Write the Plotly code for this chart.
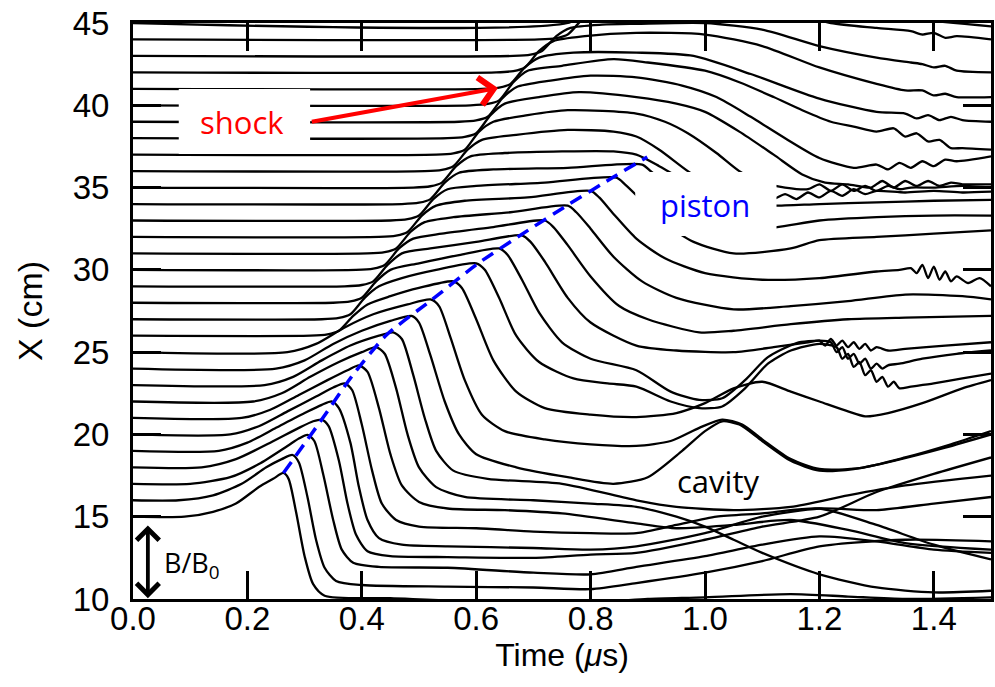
import plotly.graph_objects as go

# ---------------- data ----------------
# each probe trace: time (us) and plotted position (cm); baseline = probe position
t15 = [0, 0.09, 0.14, 0.18, 0.22, 0.245, 0.263, 0.272, 0.285, 0.30, 0.315, 0.335, 0.45, 0.6, 0.8, 0.9, 1.0, 1.15, 1.25, 1.35, 1.5]
x15 = [15, 15, 15.3, 15.8, 16.8, 17.3, 17.66, 17.3, 15.3, 12.6, 10.9, 10.2, 10.05, 9.85, 9.8, 10.0, 10.1, 10.3, 10.15, 10.0, 10.1]
t16 = [0, 0.08, 0.14, 0.19, 0.233, 0.26, 0.279, 0.29, 0.305, 0.32, 0.335, 0.355, 0.40, 0.55, 0.7, 0.8, 0.88, 1.0, 1.1, 1.2, 1.35, 1.5]
x16 = [16, 16, 16.3, 17.0, 18.0, 18.5, 18.75, 18.3, 16.2, 13.6, 11.9, 11.1, 10.85, 10.75, 10.7, 10.6, 10.97, 11.6, 12.3, 13.2, 13.6, 13.5]
t17 = [0, 0.10, 0.17, 0.22, 0.27, 0.29, 0.305, 0.317, 0.333, 0.35, 0.365, 0.385, 0.43, 0.55, 0.7, 0.8, 0.88, 1.0, 1.1, 1.2, 1.3, 1.4, 1.5]
x17 = [17, 17, 17.4, 18.2, 19.3, 19.75, 19.97, 19.6, 17.5, 14.8, 13.0, 12.2, 11.95, 11.9, 11.6, 11.5, 11.95, 12.6, 13.3, 13.8, 13.5, 13.0, 12.8]
t18 = [0, 0.12, 0.18, 0.24, 0.29, 0.315, 0.33, 0.342, 0.36, 0.375, 0.39, 0.41, 0.45, 0.55, 0.7, 0.8, 0.88, 1.0, 1.1, 1.2, 1.3, 1.4, 1.5]
x18 = [18, 18, 18.5, 19.5, 20.4, 20.8, 20.9, 20.5, 18.4, 15.8, 13.9, 12.9, 12.6, 12.55, 12.5, 12.7, 12.8, 13.6, 14.4, 15.0, 16.5, 17.6, 18.6]
t19 = [0, 0.15, 0.2, 0.25, 0.30, 0.33, 0.348, 0.36, 0.38, 0.395, 0.41, 0.43, 0.47, 0.55, 0.7, 0.8, 0.88, 1.0, 1.1, 1.2, 1.3, 1.4, 1.5]
x19 = [19, 19, 19.5, 20.4, 21.3, 21.8, 22.0, 21.6, 19.5, 16.8, 14.8, 13.7, 13.3, 13.2, 13.1, 13.0, 13.2, 14.0, 15.0, 15.5, 15.4, 15.8, 16.2]
t20 = [0, 0.17, 0.22, 0.27, 0.32, 0.35, 0.37, 0.383, 0.40, 0.418, 0.435, 0.46, 0.5, 0.6, 0.7, 0.8, 0.88, 0.95, 1.02, 1.1, 1.2, 1.3, 1.4, 1.5]
x20 = [20, 20, 20.5, 21.4, 22.3, 22.85, 23.1, 22.7, 20.6, 17.8, 15.8, 14.8, 14.4, 14.3, 14.1, 14.0, 14.0, 14.5, 15.0, 15.2, 15.5, 14.5, 13.3, 12.4]
t21 = [0, 0.19, 0.24, 0.29, 0.34, 0.375, 0.395, 0.41, 0.43, 0.45, 0.47, 0.5, 0.55, 0.65, 0.75, 0.88, 0.95, 1.05, 1.15, 1.25, 1.35, 1.5]
x21 = [21, 21, 21.5, 22.4, 23.3, 23.9, 24.2, 23.8, 21.6, 18.8, 16.9, 15.9, 15.5, 15.4, 15.2, 14.6, 14.3, 14.5, 14.8, 14.2, 13.4, 13.0]
t22 = [0, 0.21, 0.26, 0.31, 0.36, 0.40, 0.425, 0.44, 0.46, 0.48, 0.50, 0.53, 0.58, 0.7, 0.8, 0.88, 0.95, 1.0, 1.05, 1.1, 1.2, 1.3, 1.4, 1.5]
x22 = [22, 22, 22.5, 23.5, 24.4, 25.0, 25.3, 24.9, 22.8, 20.0, 18.0, 16.8, 16.2, 16.0, 15.8, 15.6, 15.0, 14.4, 13.6, 12.8, 11.5, 10.7, 10.4, 10.5]
t23 = [0, 0.23, 0.28, 0.33, 0.38, 0.43, 0.455, 0.47, 0.49, 0.51, 0.53, 0.56, 0.62, 0.75, 0.88, 0.95, 1.05, 1.15, 1.25, 1.35, 1.5]
x23 = [23, 23, 23.5, 24.5, 25.4, 26.0, 26.2, 25.8, 23.6, 21.0, 19.0, 17.8, 17.3, 17.0, 16.0, 15.6, 15.4, 15.6, 16.3, 16.9, 17.5]
t24 = [0, 0.25, 0.30, 0.35, 0.40, 0.45, 0.487, 0.50, 0.52, 0.545, 0.57, 0.60, 0.67, 0.76, 0.84, 0.90, 0.96, 1.0, 1.03, 1.06, 1.1, 1.15, 1.2, 1.26, 1.33, 1.42, 1.5]
x24 = [24, 24, 24.5, 25.5, 26.3, 26.9, 27.2, 26.8, 24.8, 22.0, 20.0, 18.8, 18.0, 17.4, 17.0, 17.4, 19.0, 20.2, 20.8, 20.6, 19.6, 18.4, 17.8, 17.9, 18.4, 19.2, 20.0]
t25 = [0, 0.27, 0.32, 0.37, 0.42, 0.48, 0.52, 0.535, 0.555, 0.58, 0.61, 0.65, 0.72, 0.80, 0.88, 0.94, 0.99, 1.03, 1.065, 1.1, 1.15, 1.2, 1.27, 1.35, 1.43, 1.5]
x25 = [25, 25, 25.5, 26.5, 27.3, 27.9, 28.2, 27.8, 25.9, 23.3, 21.2, 20.2, 19.7, 19.4, 19.3, 19.6, 20.4, 20.9, 20.6, 19.7, 18.5, 17.9, 17.95, 18.6, 19.4, 20.2]
t26 = [0, 0.31, 0.34, 0.36, 0.385, 0.41, 0.45, 0.50, 0.56, 0.575, 0.60, 0.63, 0.67, 0.72, 0.80, 0.88, 0.95, 1.0, 1.05, 1.1, 1.15, 1.2, 1.25, 1.28, 1.32, 1.38, 1.45, 1.5]
x26 = [26, 26, 26.08, 26.3, 27.2, 27.9, 28.4, 28.9, 29.3, 28.9, 27.0, 24.5, 22.6, 21.6, 21.2, 21.05, 21.3, 21.9, 22.8, 23.2, 22.6, 22.0, 21.4, 21.1, 21.3, 21.9, 22.8, 23.3]
t27 = [0, 0.33, 0.36, 0.38, 0.405, 0.43, 0.47, 0.53, 0.60, 0.615, 0.64, 0.67, 0.71, 0.77, 0.83, 0.88, 0.94, 0.99, 1.03, 1.07, 1.11, 1.15, 1.2,
       1.23, 1.24, 1.25, 1.26, 1.27, 1.28, 1.29, 1.30, 1.31, 1.32, 1.33, 1.34, 1.36, 1.4, 1.45, 1.5]
x27 = [27, 27, 27.08, 27.3, 28.3, 29.0, 29.5, 30.0, 30.4, 30.0, 28.3, 26.0, 24.4, 23.4, 23.1, 22.9, 22.0, 21.6, 21.7, 22.8, 24.3, 25.1, 25.5,
       25.3, 24.6, 24.9, 24.1, 24.4, 23.6, 23.9, 23.2, 23.5, 22.9, 23.2, 22.8, 22.9, 23.1, 23.4, 23.7]
t28 = [0, 0.35, 0.38, 0.40, 0.425, 0.45, 0.50, 0.57, 0.64, 0.655, 0.68, 0.71, 0.75, 0.80, 0.88, 0.94, 0.99, 1.03, 1.07, 1.11, 1.16, 1.2,
       1.22, 1.23, 1.24, 1.25, 1.26, 1.27, 1.28, 1.29, 1.30, 1.31, 1.32, 1.34, 1.38, 1.44, 1.5]
x28 = [28, 28, 28.08, 28.3, 29.3, 30.0, 30.4, 30.9, 31.3, 30.9, 29.4, 27.4, 25.6, 24.6, 23.9, 22.6, 22.1, 22.2, 23.3, 24.7, 25.55, 25.7,
       25.6, 25.0, 25.3, 24.6, 24.9, 24.3, 24.6, 24.0, 24.3, 24.0, 24.2, 24.3, 24.6, 24.9, 25.1]
t29 = [0, 0.37, 0.40, 0.42, 0.445, 0.47, 0.52, 0.60, 0.68, 0.695, 0.72, 0.76, 0.80, 0.88, 0.95, 1.05, 1.12, 1.18, 1.2,
       1.21, 1.22, 1.23, 1.24, 1.25, 1.26, 1.27, 1.28, 1.29, 1.30, 1.32, 1.35, 1.42, 1.5]
x29 = [29, 29, 29.08, 29.3, 30.3, 31.0, 31.3, 31.7, 32.1, 31.7, 30.5, 28.3, 26.8, 25.4, 25.1, 25.0, 25.3, 25.6, 25.7,
       25.4, 25.8, 25.4, 25.7, 25.3, 25.6, 25.2, 25.5, 25.1, 25.3, 25.1, 25.2, 25.4, 25.6]
t30 = [0, 0.39, 0.42, 0.44, 0.465, 0.49, 0.54, 0.63, 0.72, 0.735, 0.76, 0.80, 0.85, 0.90, 0.99, 1.05, 1.15, 1.25, 1.35, 1.5]
x30 = [30, 30, 30.08, 30.3, 31.3, 31.9, 32.2, 32.6, 33.0, 32.6, 31.5, 29.6, 27.8, 27.0, 26.2, 26.3, 26.7, 27.0, 27.1, 27.2]
t31 = [0, 0.41, 0.44, 0.46, 0.485, 0.51, 0.56, 0.66, 0.76, 0.775, 0.80, 0.84, 0.89, 0.95, 1.05, 1.15, 1.25, 1.35, 1.45, 1.5]
x31 = [31, 31, 31.08, 31.3, 32.3, 32.9, 33.2, 33.5, 33.9, 33.5, 32.5, 30.8, 29.3, 28.3, 27.6, 27.8, 28.1, 28.5, 28.4, 28.2]
t32 = [0, 0.43, 0.46, 0.48, 0.505, 0.53, 0.58, 0.69, 0.80, 0.815, 0.84, 0.88, 0.93, 1.0, 1.1, 1.2, 1.3,
       1.34, 1.36, 1.37, 1.38, 1.39, 1.40, 1.41, 1.42, 1.43, 1.44, 1.46, 1.48, 1.5]
x32 = [32, 32, 32.08, 32.3, 33.3, 33.9, 34.2, 34.4, 34.8, 34.4, 33.4, 31.9, 30.7, 29.8, 29.4, 29.5, 29.9,
       30.0, 30.1, 29.8, 30.3, 29.5, 30.2, 29.4, 29.9, 29.3, 29.6, 29.2, 29.5, 29.0]
t33 = [0, 0.45, 0.48, 0.50, 0.525, 0.55, 0.60, 0.72, 0.845, 0.86, 0.89, 0.93, 0.98, 1.05, 1.15, 1.2, 1.3, 1.4, 1.5]
x33 = [33, 33, 33.08, 33.3, 34.3, 34.9, 35.1, 35.3, 35.6, 35.2, 34.2, 32.8, 31.7, 31.0, 31.3, 31.8, 32.0, 32.2, 32.4]
t34 = [0, 0.47, 0.50, 0.52, 0.545, 0.57, 0.63, 0.76, 0.89, 0.905, 0.94, 0.98, 1.03, 1.1, 1.2, 1.3, 1.4, 1.5]
x34 = [34, 34, 34.08, 34.3, 35.3, 35.9, 36.1, 36.2, 36.4, 36.0, 35.0, 33.8, 32.8, 32.5, 33.0, 33.2, 33.3, 33.3]
t35 = [0, 0.49, 0.52, 0.54, 0.565, 0.59, 0.65, 0.75, 0.84, 0.88, 0.92, 0.96, 1.0, 1.06, 1.12, 1.2, 1.3, 1.4, 1.5]
x35 = [35, 35, 35.08, 35.3, 36.3, 36.9, 37.1, 37.2, 37.2, 37.0, 36.3, 35.5, 34.7, 34.0, 33.9, 34.0, 34.1, 34.2, 34.25]
t36 = [0, 0.51, 0.54, 0.56, 0.585, 0.61, 0.67, 0.76, 0.84, 0.88, 0.92, 0.97, 1.02, 1.08, 1.12,
       1.14, 1.16, 1.18, 1.2, 1.22, 1.24, 1.26, 1.28, 1.3, 1.35, 1.4, 1.45, 1.5]
x36 = [36, 36, 36.08, 36.3, 37.3, 37.9, 38.2, 38.5, 38.4, 38.1, 37.3, 36.0, 34.9, 34.4, 34.3,
       34.6, 34.3, 34.7, 34.4, 34.8, 34.5, 34.9, 34.6, 34.8, 34.7, 34.8, 34.7, 34.75]
t37 = [0, 0.53, 0.56, 0.58, 0.605, 0.63, 0.69, 0.76, 0.88, 0.93, 0.97, 1.02, 1.06, 1.1, 1.14, 1.18,
       1.2, 1.22, 1.24, 1.26, 1.28, 1.30, 1.32, 1.34, 1.36, 1.4, 1.45, 1.5]
x37 = [37, 37, 37.08, 37.3, 38.4, 39.0, 39.4, 39.7, 39.5, 39.0, 38.3, 37.1, 36.0, 35.3, 35.0, 34.9,
       35.2, 34.8, 35.2, 34.8, 35.1, 34.8, 35.1, 34.9, 35.0, 35.0, 35.1, 35.0]
t38 = [0, 0.55, 0.58, 0.60, 0.625, 0.65, 0.71, 0.78, 0.88, 0.95, 1.0, 1.06, 1.12, 1.17, 1.21, 1.25, 1.29,
       1.31, 1.33, 1.35, 1.37, 1.39, 1.41, 1.43, 1.45, 1.5]
x38 = [38, 38, 38.08, 38.3, 39.4, 40.1, 40.5, 40.8, 40.5, 40.1, 39.6, 38.4, 37.0, 35.8, 35.3, 35.2, 35.0,
       35.4, 35.0, 35.4, 35.1, 35.4, 35.1, 35.3, 35.2, 35.2]
t39 = [0, 0.57, 0.60, 0.62, 0.645, 0.67, 0.73, 0.80, 0.88, 0.96, 1.02, 1.08, 1.14, 1.2, 1.26,
       1.3, 1.32, 1.34, 1.36, 1.38, 1.40, 1.42, 1.44, 1.5]
x39 = [39, 39, 39.08, 39.3, 40.4, 41.1, 41.5, 41.8, 41.7, 41.2, 40.5, 39.3, 38.0, 36.8, 36.2,
       36.4, 36.1, 36.5, 36.2, 36.6, 36.3, 36.7, 36.6, 36.9]
t40 = [0, 0.59, 0.62, 0.64, 0.665, 0.69, 0.75, 0.84, 0.9, 1.0, 1.06, 1.12, 1.17, 1.22, 1.26, 1.3,
       1.33, 1.35, 1.37, 1.39, 1.41, 1.43, 1.45, 1.5]
x40 = [40, 40, 40.08, 40.3, 41.4, 42.1, 42.4, 42.8, 42.6, 42.1, 41.4, 40.5, 39.7, 39.0, 38.7, 38.4,
       38.6, 38.1, 38.3, 37.8, 37.9, 37.4, 37.4, 37.3]
t41 = [0, 0.61, 0.64, 0.66, 0.685, 0.71, 0.77, 0.88, 0.98, 1.08, 1.2, 1.3, 1.35, 1.37, 1.39, 1.41, 1.43, 1.45, 1.5]
x41 = [41, 41, 41.08, 41.3, 42.3, 42.9, 43.2, 43.2, 43.0, 41.9, 40.4, 39.6, 39.5, 39.2, 39.4, 39.1, 39.3, 39.1, 39.0]
t42 = [0, 0.635, 0.665, 0.685, 0.71, 0.735, 0.79, 0.88, 1.0, 1.1, 1.2, 1.3, 1.35, 1.38, 1.4, 1.42, 1.44, 1.5]
x42 = [42, 42, 42.08, 42.3, 43.3, 43.9, 44.2, 44.4, 44.3, 43.6, 42.3, 41.3, 40.9, 40.9, 40.6, 40.7, 40.5, 40.5]
t43 = [0, 0.665, 0.695, 0.715, 0.74, 0.765, 0.82, 0.88, 1.0, 1.1, 1.2, 1.3, 1.36, 1.38, 1.4, 1.42, 1.44, 1.5]
x43 = [43, 43, 43.08, 43.3, 44.2, 44.7, 44.9, 44.95, 45.0, 44.6, 43.6, 42.9, 42.6, 42.5, 42.3, 42.4, 42.1, 42.0]
t44 = [0, 0.71, 0.74, 0.76, 0.785, 0.81, 0.9, 1.0, 1.15, 1.22, 1.3, 1.36, 1.38, 1.40, 1.42, 1.44, 1.5]
x44 = [44, 44, 44.08, 44.3, 45.2, 45.8, 46.0, 46.0, 45.6, 45.0, 44.7, 44.5, 44.3, 44.4, 44.1, 44.2, 44.0]
t45 = [0, 0.76, 0.8, 0.9, 1.2, 1.35, 1.5]
x45 = [45, 45, 45.8, 46.5, 46.0, 45.3, 44.8]

# piston trajectory (blue dashed)
piston_t = [0.263, 0.327, 0.383, 0.443, 0.522, 0.602, 0.678, 0.760, 0.840, 0.899]
piston_x = [17.66, 20.76, 23.55, 26.04, 28.17, 30.36, 32.12, 33.94, 35.64, 36.86]

x_ticks = [0.0, 0.2, 0.4, 0.6, 0.8, 1.0, 1.2, 1.4]
x_ticklabels = ["0.0", "0.2", "0.4", "0.6", "0.8", "1.0", "1.2", "1.4"]
y_ticks = [10, 15, 20, 25, 30, 35, 40, 45]

traces = [(t15, x15), (t16, x16), (t17, x17), (t18, x18), (t19, x19), (t20, x20),
          (t21, x21), (t22, x22), (t23, x23), (t24, x24), (t25, x25), (t26, x26),
          (t27, x27), (t28, x28), (t29, x29), (t30, x30), (t31, x31), (t32, x32),
          (t33, x33), (t34, x34), (t35, x35), (t36, x36), (t37, x37), (t38, x38),
          (t39, x39), (t40, x40), (t41, x41), (t42, x42), (t43, x43), (t44, x44),
          (t45, x45)]

fig = go.Figure()
for tt, xx in traces:
    fig.add_trace(go.Scatter(x=tt, y=xx, mode="lines",
                             line=dict(color="black", width=2.3, shape="spline", smoothing=0.7),
                             hoverinfo="skip", showlegend=False))

fig.add_trace(go.Scatter(x=piston_t, y=piston_x, mode="lines",
                         line=dict(color="#0000ff", width=3.5, dash="13px,8px", shape="spline", smoothing=0.6),
                         hoverinfo="skip", showlegend=False))

TXT = "Open Sans"
AX = "Liberation Sans"

# white label boxes
fig.add_shape(type="rect", xref="x", yref="y", x0=0.08, x1=0.3096, y0=37.04, y1=40.99,
              fillcolor="white", line=dict(width=0), layer="above")
fig.add_shape(type="rect", xref="x", yref="y", x0=0.878, x1=1.125, y0=32.06, y1=35.95,
              fillcolor="white", line=dict(width=0), layer="above")

annotations = [
    dict(x=0.19, y=39.0, xref="x", yref="y", text="shock", showarrow=False,
         font=dict(family=TXT, size=31, color="#ff0000")),
    dict(x=1.0, y=33.95, xref="x", yref="y", text="piston", showarrow=False,
         font=dict(family=TXT, size=31, color="#0000ff")),
    dict(x=1.023, y=17.15, xref="x", yref="y", text="cavity", showarrow=False,
         font=dict(family=TXT, size=31, color="black")),
    dict(x=0.05, y=12.1, xref="x", yref="y", text="B/B<sub>0</sub>", showarrow=False,
         xanchor="left", font=dict(family=TXT, size=27, color="black")),
    # red shock arrow
    dict(x=0.638, y=41.05, xref="x", yref="y", ax=0.31, ay=38.98, axref="x", ayref="y",
         text="", showarrow=True, arrowhead=4, arrowsize=1.35, arrowwidth=4, arrowcolor="#ff0000",
         standoff=0),
    # B/B0 scale arrow
    dict(x=0.026, y=10.05, xref="x", yref="y", ax=0.026, ay=14.56, axref="x", ayref="y",
         text="", showarrow=True, arrowhead=4, startarrowhead=4, arrowside="end+start",
         arrowsize=1.15, startarrowsize=1.15, arrowwidth=3.8, arrowcolor="black",
         standoff=0, startstandoff=0),
]

axis_common = dict(showline=True, linewidth=3, linecolor="black", mirror="ticks",
                   ticks="inside", ticklen=28, tickwidth=3, tickcolor="black",
                   showgrid=False, zeroline=False,
                   tickfont=dict(family=AX, size=33, color="black"))

fig.update_layout(
    width=995, height=687,
    margin=dict(l=133, r=1, t=23, b=88),
    paper_bgcolor="white", plot_bgcolor="white",
    showlegend=False,
    annotations=annotations,
    xaxis=dict(range=[0, 1.5], tickvals=x_ticks, ticktext=x_ticklabels,
               title=dict(text="Time (<i>μ</i>s)", font=dict(family=AX, size=32, color="black"), standoff=0),
               ticklabelstandoff=-12, **axis_common),
    yaxis=dict(range=[10, 45], tickvals=y_ticks,
               title=dict(text="X (cm)", font=dict(family=AX, size=34, color="black"), standoff=20),
               ticklabelstandoff=14, **axis_common),
)

fig.write_html("out.html")
